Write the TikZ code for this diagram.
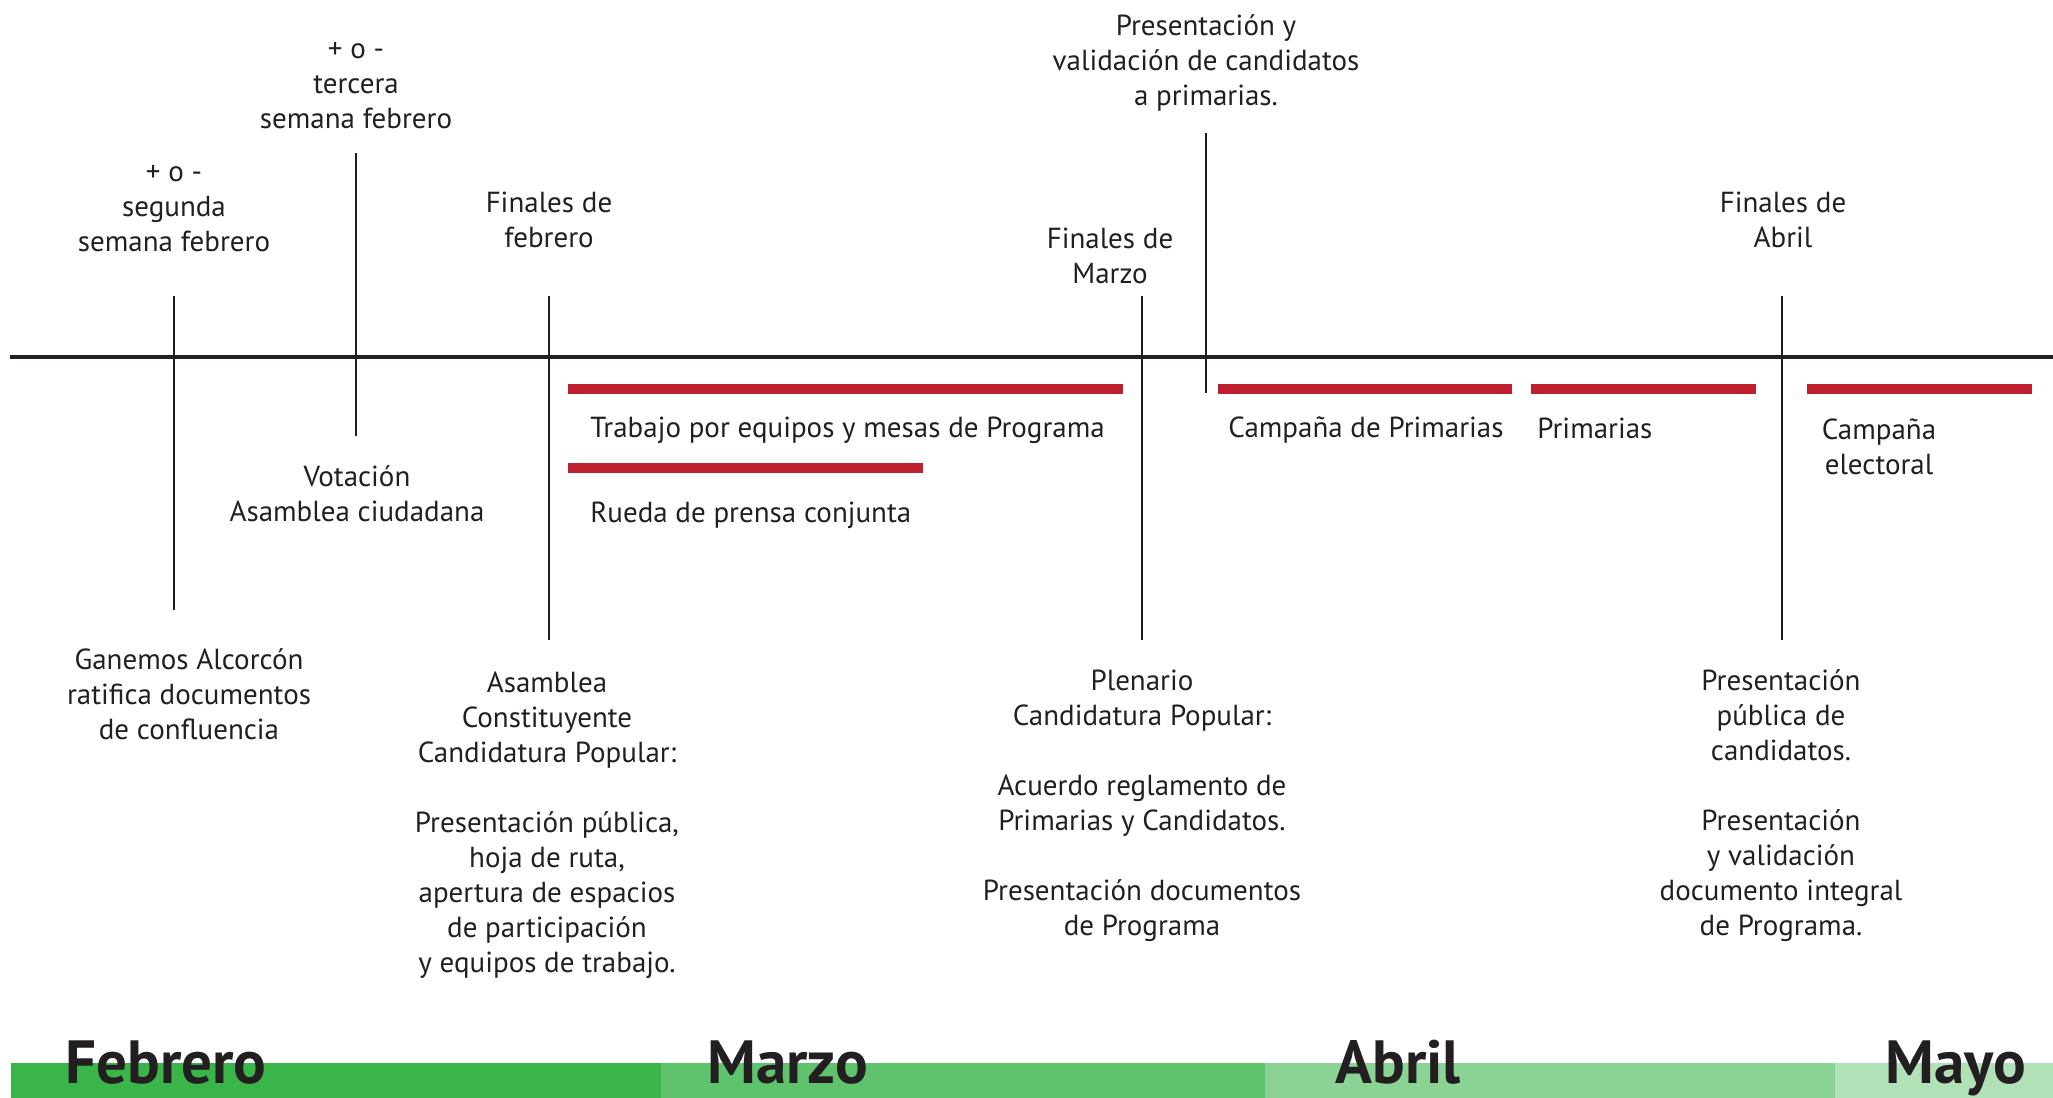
\documentclass[tikz,border=0pt]{standalone}
\usepackage{fontspec}
\setmainfont{PT Sans}
\definecolor{ink}{HTML}{231F20}
\definecolor{barred}{HTML}{BE1E2D}
\definecolor{mA}{HTML}{39B54A}
\definecolor{mB}{HTML}{5EC36C}
\definecolor{mC}{HTML}{8AD394}
\definecolor{mD}{HTML}{B1E1B6}
\begin{document}
\begin{tikzpicture}[x=0.5pt,y=-0.5pt,
  lbl/.style={text=ink,align=center,inner sep=0pt,yshift=-1.5pt,font=\fontsize{14.5}{17.5}\selectfont},
  barlbl/.style={lbl,anchor=west},
  tickline/.style={draw=ink,line width=1.1pt},
  axisline/.style={draw=ink,line width=1.6pt},
  redbar/.style={draw=barred,line width=5pt},
  month/.style={text=ink,inner sep=0pt,anchor=base west,font=\fontsize{30.5}{31}\selectfont\bfseries},
]
\useasboundingbox (0,0) rectangle (2053,1098);

% month bands
\fill[mA] (11,1063) rectangle (661,1098);
\fill[mB] (661,1063) rectangle (1265,1098);
\fill[mC] (1265,1063) rectangle (1835,1098);
\fill[mD] (1835,1063) rectangle (2053,1098);
\node[month] (feb) at (65,1083) {Febrero};
\node[month] (mar) at (707,1083) {Marzo};
\node[month] (abr) at (1335,1083) {Abril};
\node[month] (may) at (1885,1083) {Mayo};

% axis
\coordinate (axL) at (10,357);
\coordinate (axR) at (2053,357);
\draw[axisline] (axL) -- (axR);

% ticks
\coordinate (t1a) at (174,296);  \coordinate (t1b) at (174,610);
\coordinate (t2a) at (356,153);  \coordinate (t2b) at (356,436);
\coordinate (t3a) at (549,296);  \coordinate (t3b) at (549,640);
\coordinate (t4a) at (1142,296); \coordinate (t4b) at (1142,640);
\coordinate (t5a) at (1206,133); \coordinate (t5b) at (1206,393);
\coordinate (t6a) at (1782,296); \coordinate (t6b) at (1782,640);
\draw[tickline] (t1a) -- (t1b);
\draw[tickline] (t2a) -- (t2b);
\draw[tickline] (t3a) -- (t3b);
\draw[tickline] (t4a) -- (t4b);
\draw[tickline] (t5a) -- (t5b);
\draw[tickline] (t6a) -- (t6b);

% red bars
\coordinate (r1a) at (568,389);  \coordinate (r1b) at (1123,389);
\coordinate (r2a) at (568,468);  \coordinate (r2b) at (923,468);
\coordinate (r3a) at (1218,389); \coordinate (r3b) at (1512,389);
\coordinate (r4a) at (1531,389); \coordinate (r4b) at (1756,389);
\coordinate (r5a) at (1807,389); \coordinate (r5b) at (2032,389);
\draw[redbar] (r1a) -- (r1b);
\draw[redbar] (r2a) -- (r2b);
\draw[redbar] (r3a) -- (r3b);
\draw[redbar] (r4a) -- (r4b);
\draw[redbar] (r5a) -- (r5b);

% bar labels
\node[barlbl] (trabajo) at (590,427) {Trabajo por equipos y mesas de Programa};
\node[barlbl] (rueda) at (590,512) {Rueda de prensa conjunta};
\node[barlbl] (campprim) at (1228,427) {Campaña de Primarias};
\node[barlbl] (prim) at (1537,425) {Primarias};
\node[lbl] (campelec) at (1879,444) {Campaña\\electoral};

% top labels
\node[lbl] (segunda) at (174,206) {+ o -\\segunda\\semana febrero};
\node[lbl] (tercera) at (356,83) {+ o -\\tercera\\semana febrero};
\node[lbl] (finfeb) at (549,217) {Finales de\\febrero};
\node[lbl] (finmar) at (1110,253) {Finales de\\Marzo};
\node[lbl] (presval) at (1206,60) {Presentación y\\validación de candidatos\\a primarias.};
\node[lbl] (finabr) at (1783,217) {Finales de\\Abril};

% bottom labels
\node[lbl] (votacion) at (357,491) {Votación\\Asamblea ciudadana};
\node[lbl] (ganemos) at (189,691) {Ganemos Alcorcón\\ratifica documentos\\de confluencia};
\node[lbl] (asamblea) at (547,822) {Asamblea\\Constituyente\\Candidatura Popular:\\[17.5pt]Presentación pública,\\hoja de ruta,\\apertura de espacios\\de participación\\y equipos de trabajo.};
\node[lbl] (plenario) at (1142,803) {Plenario\\Candidatura Popular:\\[17.5pt]Acuerdo reglamento de\\Primarias y Candidatos.\\[17.5pt]Presentación documentos\\de Programa};
\node[lbl] (presentacion) at (1781,803) {Presentación\\pública de\\candidatos.\\[17.5pt]Presentación\\y validación\\documento integral\\de Programa.};
\end{tikzpicture}
\end{document}
